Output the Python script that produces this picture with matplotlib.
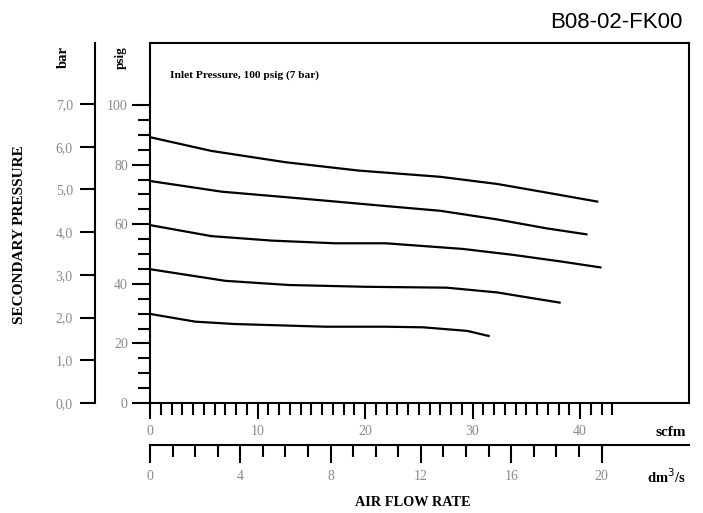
import matplotlib
matplotlib.use("Agg")
import matplotlib.pyplot as plt
from matplotlib.ticker import FixedLocator, FuncFormatter

# ---- data (psig vs scfm) ----
c1_scfm = [0, 5.7, 12.6, 19.4, 27.0, 32.3, 36.9, 41.6]
c1_psig = [89.2, 84.6, 80.8, 78.0, 75.9, 73.5, 70.6, 67.6]
c2_scfm = [0, 6.7, 13.2, 21.9, 27.0, 32.3, 36.9, 40.6]
c2_psig = [74.5, 70.9, 68.9, 66.1, 64.5, 61.6, 58.6, 56.6]
c3_scfm = [0, 5.7, 11.3, 17.2, 21.9, 29.1, 33.8, 38.4, 41.9]
c3_psig = [59.7, 56.0, 54.5, 53.6, 53.6, 51.7, 49.7, 47.4, 45.5]
c4_scfm = [0, 7.0, 12.9, 20.0, 27.6, 32.3, 35.7, 38.1]
c4_psig = [44.9, 41.0, 39.6, 39.0, 38.7, 37.1, 35.1, 33.7]
c5_scfm = [0, 4.2, 7.9, 16.3, 21.9, 25.4, 29.5, 31.5]
c5_psig = [29.9, 27.3, 26.5, 25.6, 25.6, 25.4, 24.2, 22.5]

psig_ticks = [0, 20, 40, 60, 80, 100]
bar_ticks = [0, 1, 2, 3, 4, 5, 6, 7]
scfm_ticks = [0, 10, 20, 30, 40]
dm3_ticks = [0, 4, 8, 12, 16, 20]

PSIG_PER_BAR = 14.33
SCFM_PER_DM3 = 2.10

W, H = 703, 513
fig = plt.figure(figsize=(W / 100, H / 100), dpi=100)
L, R, T, B = 150, 689, 43, 403
ax = fig.add_axes([L / W, 1 - B / H, (R - L) / W, (B - T) / H])
ax.set_xlim(0, (R - L) / 10.75)
ax.set_ylim(0, (B - T) / 2.98)

for xs, ys in [(c1_scfm, c1_psig), (c2_scfm, c2_psig), (c3_scfm, c3_psig),
               (c4_scfm, c4_psig), (c5_scfm, c5_psig)]:
    ax.plot(xs, ys, color="black", lw=1.6)

for s in ax.spines.values():
    s.set_linewidth(1.5)

gray = "#8a8a8a"
serif = "Liberation Serif"
TL = 10

# psig axis
ax.yaxis.set_major_locator(FixedLocator(psig_ticks))
ax.yaxis.set_minor_locator(FixedLocator([v for v in range(5, 100, 5) if v % 20]))
ax.tick_params(axis="y", which="major", length=13, width=1.5, pad=3,
               labelsize=TL, labelcolor=gray)
ax.tick_params(axis="y", which="minor", length=8.5, width=1.5)
for lab in ax.get_yticklabels():
    lab.set_fontfamily(serif)

# scfm axis
ax.xaxis.set_major_locator(FixedLocator(scfm_ticks))
ax.xaxis.set_minor_locator(FixedLocator([v for v in range(1, 44) if v % 10]))
ax.tick_params(axis="x", which="major", length=11.5, width=1.5, pad=4,
               labelsize=TL, labelcolor=gray)
ax.tick_params(axis="x", which="minor", length=8.5, width=1.5)
for lab in ax.get_xticklabels():
    lab.set_fontfamily(serif)

# bar axis
sec_y = ax.secondary_yaxis((95 - L) / (R - L),
                           functions=(lambda p: p / PSIG_PER_BAR, lambda b: b * PSIG_PER_BAR))
sec_y.yaxis.set_major_locator(FixedLocator(bar_ticks))
sec_y.yaxis.set_major_formatter(FuncFormatter(lambda v, p: f"{v:.1f}".replace(".", ",")))
sec_y.tick_params(axis="y", which="major", length=11, width=1.5, pad=5,
                  labelsize=TL, labelcolor=gray)
sec_y.spines["left"].set_linewidth(1.5)
for lab in sec_y.get_yticklabels():
    lab.set_fontfamily(serif)

# dm3/s axis
sec_x = ax.secondary_xaxis(-(445 - B) / (B - T),
                           functions=(lambda s: s / SCFM_PER_DM3, lambda d: d * SCFM_PER_DM3))
sec_x.xaxis.set_major_locator(FixedLocator(dm3_ticks))
sec_x.xaxis.set_minor_locator(FixedLocator([v for v in range(1, 20) if v % 4]))
sec_x.tick_params(axis="x", which="major", length=13, width=1.5, pad=5,
                  labelsize=TL, labelcolor=gray)
sec_x.tick_params(axis="x", which="minor", length=8.5, width=1.5)
sec_x.spines["bottom"].set_linewidth(1.5)
for lab in sec_x.get_xticklabels():
    lab.set_fontfamily(serif)


def ft(x, y, s, **kw):
    fig.text(x / W, 1 - y / H, s, **kw)


ft(683, 23, "B08-02-FK00", ha="right", va="center", fontsize=16,
   family="Liberation Sans")
ft(170, 75, "Inlet Pressure, 100 psig (7 bar)", ha="left", va="center",
   fontsize=8.2, family=serif, weight="bold")
ft(63, 57, "bar", ha="center", va="center", rotation=90, fontsize=10.5,
   family=serif, weight="bold")
ft(121, 58, "psig", ha="center", va="center", rotation=90, fontsize=9.5,
   family=serif, weight="bold")
ft(20, 235, "SECONDARY PRESSURE", ha="center", va="center", rotation=90,
   fontsize=11, family=serif, weight="bold")
ft(686, 432, "scfm", ha="right", va="center", fontsize=11, family=serif, weight="bold")
ft(686, 477, "dm$^3$/s", ha="right", va="center", fontsize=10.5, family=serif, weight="bold")
ft(355, 503, "AIR FLOW RATE", ha="left", va="center", fontsize=10.3,
   family=serif, weight="bold")

fig.savefig("out.png", dpi=100)
